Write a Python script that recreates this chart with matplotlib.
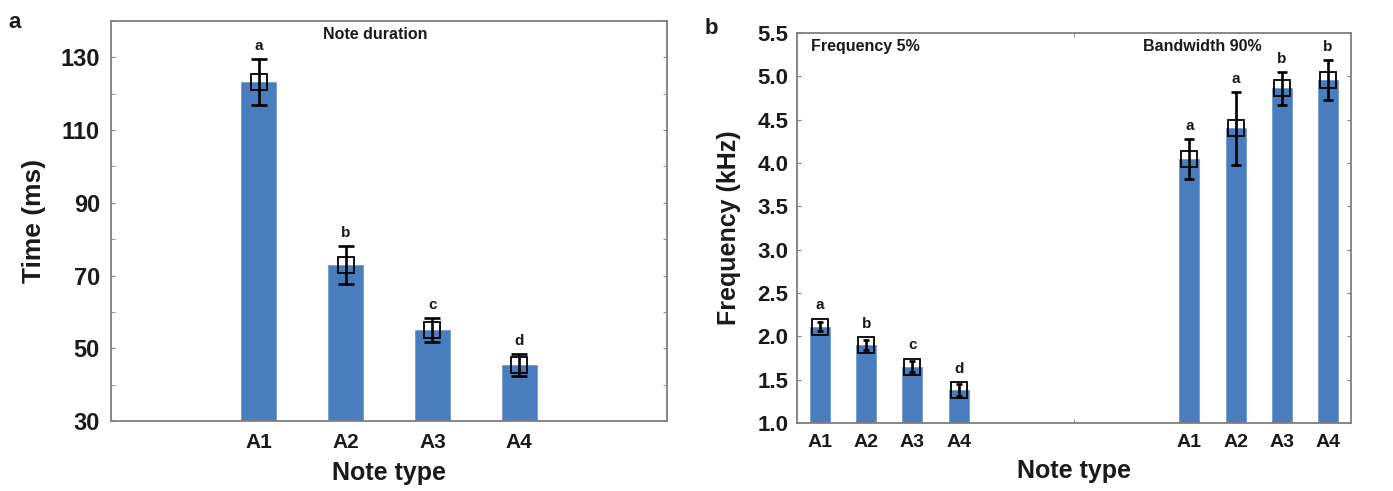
import matplotlib
matplotlib.use("Agg")
import matplotlib.pyplot as plt
from matplotlib.ticker import MultipleLocator, FixedLocator, FormatStrFormatter

plt.rcParams['font.family'] = ['Liberation Sans', 'DejaVu Sans']

# ---------------- data ----------------
note_types = ["A1", "A2", "A3", "A4"]

# panel a: note duration (ms)
dur_mean = [123.2, 72.8, 55.1, 45.4]
dur_err = [6.3, 5.2, 3.3, 3.0]
dur_letters = ["a", "b", "c", "d"]

# panel b: frequency 5% (kHz)
f5_mean = [2.11, 1.90, 1.65, 1.38]
f5_err = [0.05, 0.06, 0.06, 0.07]
f5_letters = ["a", "b", "c", "d"]

# panel b: bandwidth 90% (kHz)
bw_mean = [4.05, 4.40, 4.86, 4.96]
bw_err = [0.23, 0.42, 0.19, 0.23]
bw_letters = ["a", "a", "b", "b"]

BAR = "#4a7dbd"
SPINE = "#7f7f7f"
TXT = "#1a1a1a"

fig = plt.figure(figsize=(13.93, 4.91), dpi=100)
axa = fig.add_axes([111 / 1393, (491 - 421) / 491, 556 / 1393, 400 / 491])
axb = fig.add_axes([797 / 1393, (491 - 423) / 491, 554 / 1393, 390 / 491])


def style(ax):
    for s in ax.spines.values():
        s.set_color(SPINE)
        s.set_linewidth(1.3)


def draw_group(ax, xs, means, errs, letters, width, msize, capsize, half_px, gap_px):
    base = ax.get_ylim()[0]
    ax.bar(xs, [m - base for m in means], width=width, bottom=base,
           color=BAR, edgecolor="#6f9ad0", linewidth=0.6, zorder=2)
    ax.errorbar(xs, means, yerr=errs, fmt="none", ecolor="black",
                elinewidth=1.9, capsize=capsize, capthick=1.9, zorder=4)
    ax.plot(xs, means, linestyle="none", marker="s", markersize=msize,
            markerfacecolor="none", markeredgecolor="black",
            markeredgewidth=1.3, zorder=5)
    inv = ax.transData.inverted()
    for x, m, e, lt in zip(xs, means, errs, letters):
        py_mean = ax.transData.transform((x, m))[1]
        py_err = ax.transData.transform((x, m + e))[1]
        top = max(py_err, py_mean + half_px) + gap_px
        y = inv.transform((0, top))[1]
        ax.text(x, y, lt, ha="center", va="bottom", fontsize=11,
                fontweight="bold", color=TXT, zorder=6)


def bold_ticklabels(ax):
    for lab in ax.get_xticklabels() + ax.get_yticklabels():
        lab.set_fontweight("bold")


# ---------------- panel a ----------------
style(axa)
axa.set_xlim(-0.7, 5.7)
axa.set_ylim(30, 140)
xa = [1, 2, 3, 4]
draw_group(axa, xa, dur_mean, dur_err, dur_letters, width=0.41,
           msize=11, capsize=5.5, half_px=7.5, gap_px=6)
axa.set_xticks(xa)
axa.set_xticklabels(note_types, fontsize=15, color=TXT)
axa.tick_params(axis="x", length=0, pad=9)
axa.yaxis.set_major_locator(FixedLocator([30, 50, 70, 90, 110, 130]))
axa.yaxis.set_minor_locator(MultipleLocator(10))
axa.tick_params(axis="y", which="both", direction="in", length=3,
                color=SPINE, right=True, labelsize=17, labelcolor=TXT, pad=8)
bold_ticklabels(axa)
axa.set_xlabel("Note type", fontsize=18, fontweight="bold", color=TXT, labelpad=6)
axa.set_ylabel("Time (ms)", fontsize=19, fontweight="bold", color=TXT, labelpad=10)
axa.text(0.476, 0.965, "Note duration", transform=axa.transAxes, ha="center",
         va="center", fontsize=11.5, fontweight="bold", color=TXT)

# ---------------- panel b ----------------
style(axb)
axb.set_xlim(0.5, 12.5)
axb.set_ylim(1.0, 5.5)
xb1 = [1, 2, 3, 4]
xb2 = [9, 10, 11, 12]
draw_group(axb, xb1, f5_mean, f5_err, f5_letters, width=0.43,
           msize=12, capsize=2.5, half_px=8.5, gap_px=6)
draw_group(axb, xb2, bw_mean, bw_err, bw_letters, width=0.43,
           msize=12, capsize=3.3, half_px=8.5, gap_px=6)
axb.set_xticks(xb1 + xb2)
axb.set_xticklabels(note_types + note_types, fontsize=14, color=TXT)
axb.tick_params(axis="x", which="major", length=0, pad=8)
axb.xaxis.set_minor_locator(FixedLocator([6.5]))
axb.tick_params(axis="x", which="minor", direction="in", length=3,
                color=SPINE, top=True)
axb.yaxis.set_major_locator(MultipleLocator(0.5))
axb.yaxis.set_major_formatter(FormatStrFormatter("%.1f"))
axb.tick_params(axis="y", which="both", direction="in", length=3,
                color=SPINE, right=True, labelsize=16, labelcolor=TXT, pad=6)
bold_ticklabels(axb)
axb.set_xlabel("Note type", fontsize=18, fontweight="bold", color=TXT, labelpad=6)
axb.set_ylabel("Frequency (kHz)", fontsize=18, fontweight="bold", color=TXT, labelpad=12)
axb.text(0.025, 0.965, "Frequency 5%", transform=axb.transAxes, ha="left",
         va="center", fontsize=11.5, fontweight="bold", color=TXT)
axb.text(0.625, 0.965, "Bandwidth 90%", transform=axb.transAxes, ha="left",
         va="center", fontsize=11.5, fontweight="bold", color=TXT)

# panel letters
fig.text(8 / 1393, 1 - 22 / 491, "a", fontsize=16, fontweight="bold",
         color=TXT, ha="left", va="center")
fig.text(705 / 1393, 1 - 28 / 491, "b", fontsize=16, fontweight="bold",
         color=TXT, ha="left", va="center")

fig.savefig("out.png", dpi=100)
